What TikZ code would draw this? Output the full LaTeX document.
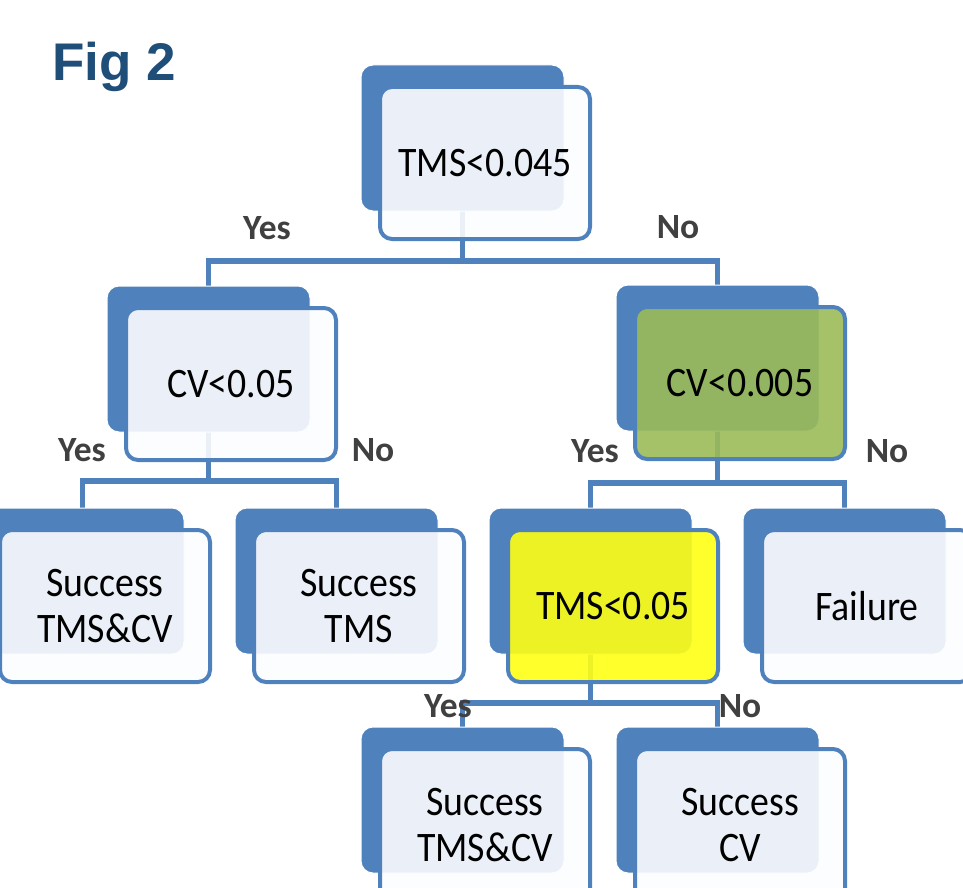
\documentclass[tikz,border=0pt]{standalone}
\usepackage{fontspec}
\usetikzlibrary{calc}
\newfontfamily\boxfont[FakeStretch=0.9]{Carlito}
\newfontfamily\labfont{Carlito}
\newfontfamily\figfont{Liberation Sans}
\definecolor{bblue}{RGB}{79,129,189}
\definecolor{ffill}{RGB}{252,253,255}
\definecolor{gfill}{RGB}{155,187,89}
\definecolor{yfill}{RGB}{255,255,20}
\definecolor{labgray}{RGB}{64,64,64}
\definecolor{figblue}{RGB}{31,78,121}
\pgfdeclarelayer{bg}
\pgfsetlayers{bg,main}
\tikzset{
  backbox/.style={draw=white, line width=1pt, fill=bblue, rounded corners=12pt,
    minimum width=203pt, minimum height=146pt, inner sep=0pt, outer sep=0pt},
  frontbox/.style={draw=bblue, line width=4pt, fill=ffill, fill opacity=0.9, text opacity=1,
    rounded corners=12pt, minimum width=210pt, minimum height=152pt, inner sep=0pt, outer sep=0pt,
    align=center, font=\boxfont\fontsize{42}{46}\selectfont, text=black},
  conn/.style={draw=bblue, line width=5.5pt},
  lab/.style={anchor=base, font=\labfont\bfseries\fontsize{35.5}{40}\selectfont, text=labgray, inner sep=0pt}
}
\begin{document}
\begin{tikzpicture}[x=1pt,y=-1pt]
\useasboundingbox (0,0) rectangle (963,888);
\clip (0,0) rectangle (963,888);
\node[anchor=base west, inner sep=0pt, font=\figfont\bfseries\fontsize{53}{60}\selectfont, text=figblue] (fig) at (52,81) {Fig 2};

% back boxes
\node[backbox] (topB) at (462.5,138) {};
\node[backbox] (cvlB) at (208.5,359) {};
\node[backbox] (cvrB) at (717.5,358) {};
\node[backbox] (laB) at (82.5,581) {};
\node[backbox] (lbB) at (336.5,581) {};
\node[backbox] (tmsB) at (590.5,581) {};
\node[backbox] (failB) at (844.5,581) {};
\node[backbox] (lcB) at (462.5,800) {};
\node[backbox] (ldB) at (717.5,800) {};

% front boxes
\node[frontbox] (topF) at (485,163) {TMS<0.045};
\node[frontbox] (cvlF) at (231,384) {CV<0.05};
\node[frontbox, fill=gfill] (cvrF) at (740,383) {CV<0.005};
\node[frontbox] (laF) at (105,606) {Success\\TMS\&CV};
\node[frontbox] (lbF) at (359,606) {Success\\TMS};
\node[frontbox, fill=yfill] (tmsF) at (613,606) {TMS<0.05};
\node[frontbox] (failF) at (867,606) {Failure};
\node[frontbox] (lcF) at (485,825) {Success\\TMS\&CV};
\node[frontbox] (ldF) at (740,825) {Success\\CV};

% connectors
\begin{pgfonlayer}{bg}
\coordinate (b1) at ($(cvlB.north)+(0,-25)$);
\draw[conn] (cvlB.north) -- (b1) -- (b1 -| cvrB.north) -- (cvrB.north);
\draw[conn] (topB.south) -- (topB.south |- b1);
\coordinate (b2) at ($(laB.north)+(0,-27)$);
\draw[conn] (laB.north) -- (b2) -- (b2 -| lbB.north) -- (lbB.north);
\draw[conn] (cvlB.south) -- (cvlB.south |- b2);
\coordinate (b3) at ($(tmsB.north)+(0,-25)$);
\draw[conn] (tmsB.north) -- (b3) -- (b3 -| failB.north) -- (failB.north);
\draw[conn] (cvrB.south) -- (cvrB.south |- b3);
\coordinate (b4) at ($(lcB.north)+(0,-24)$);
\draw[conn] (lcB.north) -- (b4) -- (b4 -| ldB.north) -- (ldB.north);
\draw[conn] (tmsB.south) -- (tmsB.south |- b4);
\end{pgfonlayer}

% labels
\node[lab] (y1) at (267,239) {Yes};
\node[lab] (n1) at (678,238) {No};
\node[lab] (y2) at (82,461) {Yes};
\node[lab] (n2) at (373,461) {No};
\node[lab] (y3) at (595,462) {Yes};
\node[lab] (n3) at (887,462) {No};
\node[lab] (y4) at (448,717) {Yes};
\node[lab] (n4) at (740,717) {No};
\end{tikzpicture}
\end{document}
